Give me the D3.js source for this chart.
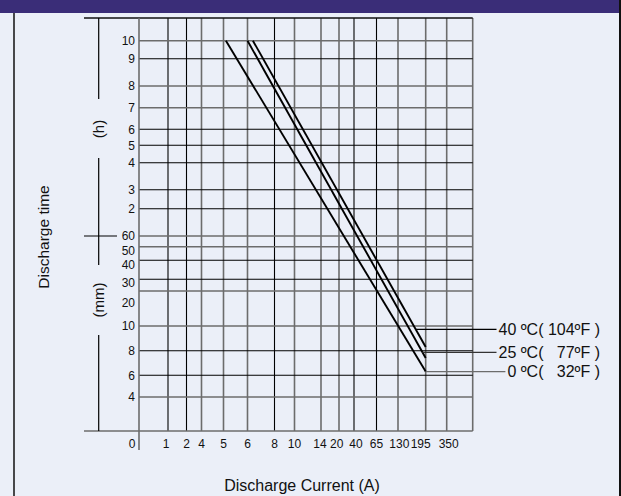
<!DOCTYPE html>
<html>
<head>
<meta charset="utf-8">
<script src="https://cdn.jsdelivr.net/npm/d3@7"></script>
<style>
  html, body { margin: 0; padding: 0; background: #ebeff8; }
  text { font-family: "Liberation Sans", Arial, sans-serif; fill: #111; }
</style>
</head>
<body>
<div id="chart"></div>
<script>
// valori
const currentTicks = [0, 1, 2, 4, 5, 6, 8, 10, 14, 20, 40, 65, 130, 195, 350];
const timeTicks = [600, 540, 480, 420, 360, 300, 240, 180, 120, 60, 50, 40, 30, 20, 10, 8, 6, 4, 0];
const timeLabels = ["10", "9", "8", "7", "6", "5", "4", "3", "2", "60", "50", "40", "30", "20", "10", "8", "6", "4", ""];
const seriesNames = ["40 ºC( 104ºF )", "25 ºC(   77ºF )", "0 ºC(   32ºF )"];
const current40 = [6.4, 195], time40 = [600, 8.3];
const current25 = [6, 195],   time25 = [600, 7.4];
const current0 = [5.1, 195],  time0 = [600, 6.3];

// layout della griglia (scala non uniforme)
const width = 621, height = 496;
const xPos = [139, 168, 186.5, 201.5, 223.5, 247.5, 274.5, 294.5, 321, 339, 354, 376.5, 398, 425.7, 446.7];
const yPos = [40.7, 58.7, 86, 107.7, 129.3, 145.3, 162.7, 189.7, 208.7, 236, 246.7, 260.3, 279.3, 291, 326, 350.7, 375.3, 397, 431];
const xGray = [0, 4, 5, 6, 10, 14, 20, 130, 195, 350];
const yGray = [600, 480, 420, 60, 50, 20, 10, 4, 0];
const yLabelNudge = {10: 4, 11: 4, 12: 3, 13: 11.5};
const xLabelNudge = {0: -7, 1: -2, 8: -1, 9: -2.3, 10: 2, 12: 1.3, 13: -5, 14: 2};
const gridTop = 18, gridRight = 472.7;

const x = d3.scaleLinear().domain(currentTicks).range(xPos);
const y = d3.scaleLinear().domain(timeTicks).range(yPos);

const svg = d3.select("#chart").append("svg")
  .attr("width", width).attr("height", height);

svg.append("rect").attr("width", width).attr("height", height).attr("fill", "#ebeff8");
svg.append("rect").attr("width", width).attr("height", 13).attr("fill", "#3a2d78");
svg.append("line").attr("x1", 14).attr("x2", 14).attr("y1", 13).attr("y2", height)
  .attr("stroke", "#111").attr("stroke-width", 1.5);
svg.append("line").attr("x1", 620).attr("x2", 620).attr("y1", 0).attr("y2", height)
  .attr("stroke", "#111").attr("stroke-width", 2);

const gray = "#6c6c6c";
const g = svg.append("g");

// griglia verticale
g.selectAll(".vx").data(currentTicks.slice(1)).join("line")
  .attr("x1", d => x(d)).attr("x2", d => x(d))
  .attr("y1", gridTop).attr("y2", y(0))
  .attr("stroke", d => xGray.includes(d) ? gray : "#000")
  .attr("stroke-width", d => xGray.includes(d) ? 1.6 : 1.1);
g.append("line").attr("x1", gridRight).attr("x2", gridRight)
  .attr("y1", gridTop).attr("y2", y(0)).attr("stroke", gray).attr("stroke-width", 1.6);

// griglia orizzontale
g.selectAll(".hy").data(timeTicks).join("line")
  .attr("x1", d => d === 0 ? 84 : x(0)).attr("x2", gridRight)
  .attr("y1", d => y(d)).attr("y2", d => y(d))
  .attr("stroke", d => yGray.includes(d) ? gray : "#000")
  .attr("stroke-width", d => yGray.includes(d) ? 1.6 : 1.1);
g.append("line").attr("x1", 84).attr("x2", gridRight)
  .attr("y1", gridTop).attr("y2", gridTop).attr("stroke", "#111").attr("stroke-width", 1.3);

// asse y
g.append("line").attr("x1", x(0)).attr("x2", x(0))
  .attr("y1", gridTop).attr("y2", 450).attr("stroke", gray).attr("stroke-width", 1.6);

// parentesi ore / minuti
const bx = 98.7;
[[gridTop, 99], [158, 265], [335, y(0)]].forEach(s => {
  g.append("line").attr("x1", bx).attr("x2", bx).attr("y1", s[0]).attr("y2", s[1])
    .attr("stroke", "#000").attr("stroke-width", 1.2);
});
g.append("line").attr("x1", 84).attr("x2", 117).attr("y1", y(60)).attr("y2", y(60))
  .attr("stroke", "#000").attr("stroke-width", 1.2);
g.append("text").attr("transform", `translate(${bx + 5},${129}) rotate(-90)`)
  .attr("text-anchor", "middle").attr("font-size", 15).text("(h)");
g.append("text").attr("transform", `translate(${bx + 5},${300}) rotate(-90)`)
  .attr("text-anchor", "middle").attr("font-size", 15).text("(mm)");
g.append("text").attr("transform", `translate(${49},${237}) rotate(-90)`)
  .attr("text-anchor", "middle").attr("font-size", 15.5).text("Discharge time");

// etichette y
g.selectAll(".ly").data(timeTicks).join("text")
  .attr("x", 135)
  .attr("y", (d, i) => y(d) + 4.3 + (yLabelNudge[i] || 0))
  .attr("text-anchor", "end").attr("font-size", 12)
  .text((d, i) => timeLabels[i]);

// etichette x
g.selectAll(".lx").data(currentTicks).join("text")
  .attr("x", (d, i) => x(d) + (xLabelNudge[i] || 0))
  .attr("y", 447.5).attr("text-anchor", "middle").attr("font-size", 12)
  .text(d => d);
g.append("text").attr("x", 302).attr("y", 491).attr("text-anchor", "middle")
  .attr("font-size", 16).text("Discharge Current (A)");

// curve di scarica
const series = [
  {name: seriesNames[0], c: current40, t: time40, ly: 329.3, conn: "#000"},
  {name: seriesNames[1], c: current25, t: time25, ly: 352.3, conn: "#333"},
  {name: seriesNames[2], c: current0, t: time0, ly: 371.7, conn: gray}
];
const line = d3.line().x(d => x(d[0])).y(d => y(d[1]));
series.forEach(s => {
  const pts = d3.zip(s.c, s.t);
  g.append("path").attr("d", line(pts)).attr("fill", "none")
    .attr("stroke", "#000").attr("stroke-width", 1.9);
  const x0 = x(s.c[0]), y0 = y(s.t[0]), x1 = x(s.c[1]), y1 = y(s.t[1]);
  const cx = s.ly < y1 ? x0 + (x1 - x0) * (s.ly - y0) / (y1 - y0) : x1;
  const txt = g.append("text").attr("x", 600).attr("y", s.ly + 5.5)
    .attr("text-anchor", "end").attr("font-size", 16)
    .style("white-space", "pre").text(s.name);
  const tw = txt.node().getComputedTextLength();
  g.append("line").attr("x1", cx).attr("x2", 600 - tw - 2)
    .attr("y1", s.ly).attr("y2", s.ly)
    .attr("stroke", s.conn).attr("stroke-width", 1.3);
});
</script>
</body>
</html>
